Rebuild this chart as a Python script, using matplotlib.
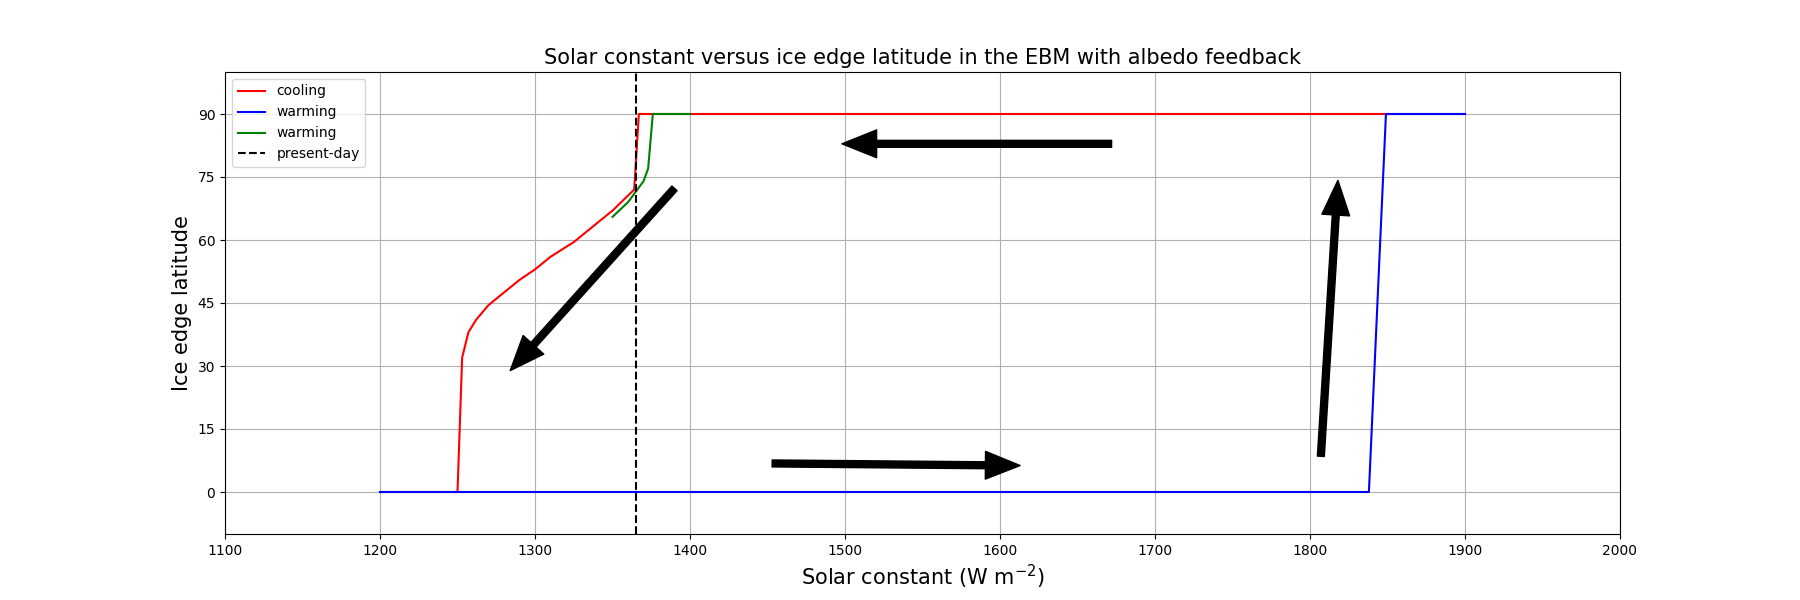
import matplotlib
matplotlib.use('Agg')
import matplotlib.pyplot as plt

# cooling branch (red)
cool_S = [1900, 1850, 1367, 1364, 1350, 1340, 1325, 1310, 1300, 1290, 1280, 1270, 1262, 1257, 1253, 1250, 1200]
cool_lat = [90, 90, 90, 72, 67, 64, 59.5, 56, 53, 50.5, 47.5, 44.5, 41, 38, 32, 0, 0]

# warming branch (blue)
warm_S = [1200, 1838, 1849, 1900]
warm_lat = [0, 0, 90, 90]

# warming from present-day (green)
warm2_S = [1350, 1360, 1366, 1370, 1373, 1376, 1400]
warm2_lat = [65.5, 69, 72, 74, 77, 90, 90]

present_S = 1365

# arrows: (start, end)
arrows = [((1390, 72.3), (1284, 28.9)),
          ((1672, 82.9), (1498, 82.9)),
          ((1453, 6.8), (1613, 6.3)),
          ((1807, 8.5), (1818, 74.2))]

fig, ax = plt.subplots(figsize=(18, 6), dpi=100)
ax.plot(cool_S, cool_lat, color='red', label='cooling')
ax.plot(warm_S, warm_lat, color='blue', label='warming')
ax.plot(warm2_S, warm2_lat, color='green', label='warming')
ax.axvline(present_S, color='black', linestyle='--', label='present-day')

for start, end in arrows:
    ax.annotate('', xy=end, xytext=start,
                arrowprops=dict(facecolor='black', edgecolor='black', width=5, headwidth=20, headlength=25))

ax.set_xlim(1100, 2000)
ax.set_ylim(-10, 100)
ax.set_yticks(range(0, 91, 15))
ax.grid(True)
ax.set_xlabel('Solar constant (W m$^{-2}$)', fontsize=15)
ax.set_ylabel('Ice edge latitude', fontsize=15)
ax.set_title('Solar constant versus ice edge latitude in the EBM with albedo feedback', fontsize=15)
ax.legend(loc='upper left')
fig.savefig('out.png')
